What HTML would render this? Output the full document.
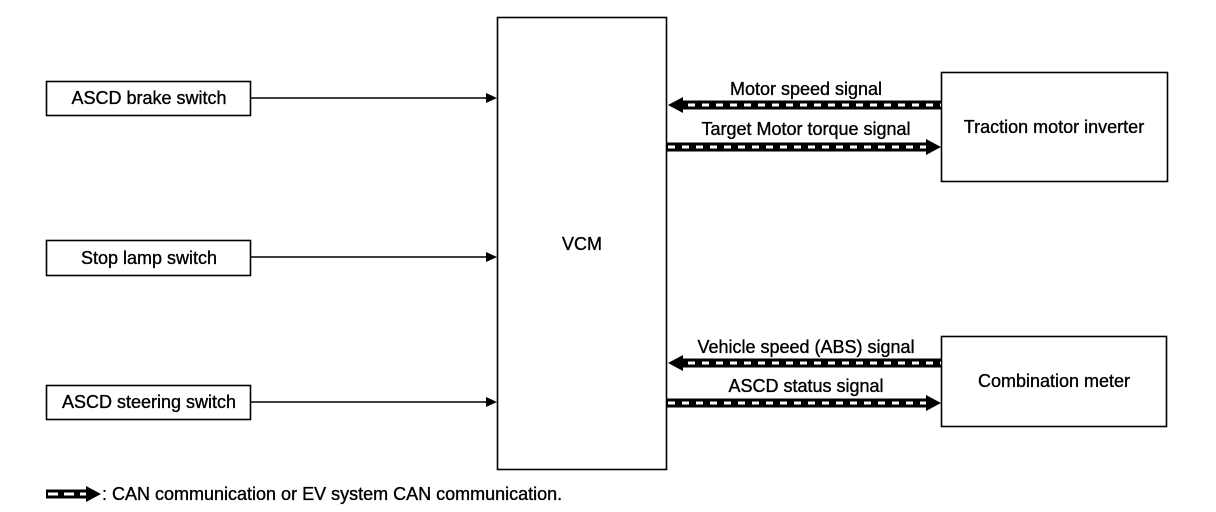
<!DOCTYPE html>
<html><head><style>body{margin:0;background:#fff}svg{display:block}text{font-family:"Liberation Sans",sans-serif;font-size:18px;fill:#000;stroke:#000;stroke-width:0.35}</style></head>
<body>
<svg width="1216" height="512" viewBox="0 0 1216 512" xmlns="http://www.w3.org/2000/svg">
<g fill="none" stroke="#000" stroke-width="1.6">
<rect x="46.5" y="81.5" width="204" height="34"/>
<rect x="46.5" y="240.5" width="204" height="35"/>
<rect x="46.5" y="385.5" width="204" height="34"/>
<rect x="497.5" y="17.5" width="169" height="452"/>
<rect x="941.5" y="72.5" width="226" height="109"/>
<rect x="941.5" y="336.5" width="225" height="90"/>
<line x1="250" y1="98" x2="488" y2="98"/>
<line x1="250" y1="257" x2="488" y2="257"/>
<line x1="250" y1="402" x2="488" y2="402"/>
</g>
<g fill="#000">
<polygon points="486,93 497,98 486,103"/>
<polygon points="486,252 497,257 486,262"/>
<polygon points="486,397 497,402 486,407"/>
<rect x="680" y="100.5" width="261" height="9"/>
<polygon points="668,105 683,97 683,113"/>
<rect x="667" y="142.5" width="262" height="9"/>
<polygon points="941,147 926,139 926,155"/>
<rect x="680" y="358.5" width="261" height="9"/>
<polygon points="668,363 683,355 683,371"/>
<rect x="667" y="398.5" width="262" height="9"/>
<polygon points="941,403 926,395 926,411"/>
<rect x="46" y="489.5" width="42" height="9"/>
<polygon points="101,494 86,486 86,502"/>
</g>
<g stroke="#fff" stroke-width="3" stroke-dasharray="7 7">
<line x1="688" y1="105" x2="941" y2="105"/>
<line x1="668" y1="147" x2="926" y2="147"/>
<line x1="688" y1="363" x2="941" y2="363"/>
<line x1="668" y1="403" x2="926" y2="403"/>
<line x1="48" y1="494" x2="86" y2="494" stroke-dasharray="10 6"/>
</g>
<text x="149" y="104" text-anchor="middle">ASCD brake switch</text>
<text x="149" y="264" text-anchor="middle">Stop lamp switch</text>
<text x="149" y="408" text-anchor="middle">ASCD steering switch</text>
<text x="582" y="250" text-anchor="middle">VCM</text>
<text x="1054" y="133" text-anchor="middle">Traction motor inverter</text>
<text x="1054" y="387" text-anchor="middle">Combination meter</text>
<text x="806" y="95" text-anchor="middle">Motor speed signal</text>
<text x="806" y="135" text-anchor="middle">Target Motor torque signal</text>
<text x="806" y="353" text-anchor="middle">Vehicle speed (ABS) signal</text>
<text x="806" y="392" text-anchor="middle">ASCD status signal</text>
<text x="102" y="500">: CAN communication or EV system CAN communication.</text>
</svg>
</body></html>
